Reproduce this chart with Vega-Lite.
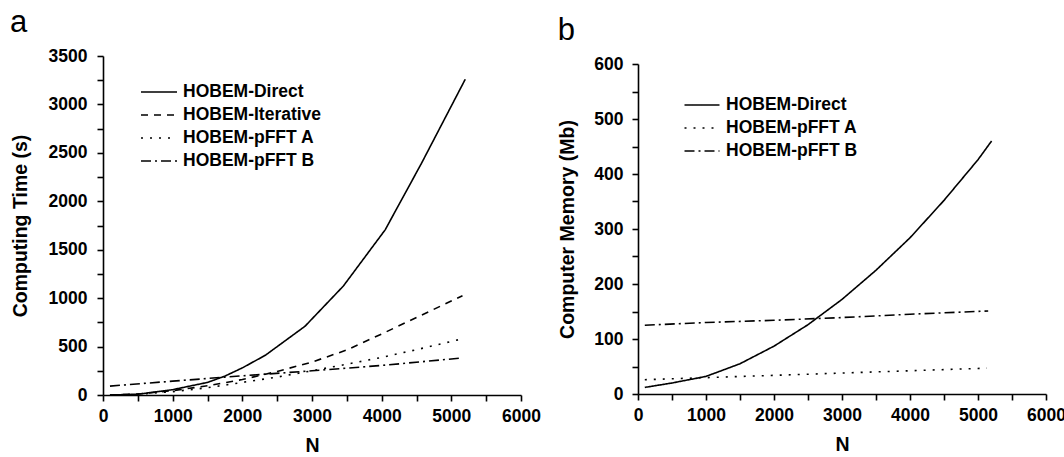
{
  "$schema": "https://vega.github.io/schema/vega-lite/v6.json",
  "background": "white",
  "padding": {"left": 10, "top": 7, "right": 0, "bottom": 0},
  "spacing": 16,
  "config": {
    "view": {"stroke": null},
    "font": "Liberation Sans",
    "axis": {
      "grid": false,
      "domainColor": "black", "domainWidth": 1.6,
      "tickColor": "black", "tickWidth": 1.6, "tickSize": 6,
      "labelFont": "Liberation Sans", "labelFontWeight": "bold", "labelFontSize": 17.5, "labelColor": "black",
      "titleFont": "Liberation Sans", "titleFontWeight": "bold", "titleFontSize": 19.5, "titleColor": "black",
      "labelFlush": false, "labelOverlap": false
    },
    "title": {"font": "Liberation Sans", "fontSize": 31, "fontWeight": "normal", "anchor": "start", "frame": "bounds", "color": "black"}
  },
  "datasets": {
    "time": [
      {"series": "HOBEM-Direct", "N": 100, "value": 0},
      {"series": "HOBEM-Direct", "N": 500, "value": 8},
      {"series": "HOBEM-Direct", "N": 1000, "value": 55},
      {"series": "HOBEM-Direct", "N": 1500, "value": 130},
      {"series": "HOBEM-Direct", "N": 1750, "value": 195},
      {"series": "HOBEM-Direct", "N": 2000, "value": 280},
      {"series": "HOBEM-Direct", "N": 2330, "value": 410},
      {"series": "HOBEM-Direct", "N": 2900, "value": 710},
      {"series": "HOBEM-Direct", "N": 3450, "value": 1125},
      {"series": "HOBEM-Direct", "N": 4050, "value": 1705},
      {"series": "HOBEM-Direct", "N": 4570, "value": 2390},
      {"series": "HOBEM-Direct", "N": 5200, "value": 3260},
      {"series": "HOBEM-Iterative", "N": 100, "value": 0},
      {"series": "HOBEM-Iterative", "N": 500, "value": 10},
      {"series": "HOBEM-Iterative", "N": 1000, "value": 45},
      {"series": "HOBEM-Iterative", "N": 1500, "value": 95},
      {"series": "HOBEM-Iterative", "N": 2000, "value": 160},
      {"series": "HOBEM-Iterative", "N": 2500, "value": 243},
      {"series": "HOBEM-Iterative", "N": 3000, "value": 340},
      {"series": "HOBEM-Iterative", "N": 3500, "value": 465},
      {"series": "HOBEM-Iterative", "N": 4000, "value": 630},
      {"series": "HOBEM-Iterative", "N": 4500, "value": 800},
      {"series": "HOBEM-Iterative", "N": 5160, "value": 1025},
      {"series": "HOBEM-pFFT A", "N": 100, "value": 0},
      {"series": "HOBEM-pFFT A", "N": 500, "value": 8},
      {"series": "HOBEM-pFFT A", "N": 1000, "value": 35},
      {"series": "HOBEM-pFFT A", "N": 1500, "value": 75},
      {"series": "HOBEM-pFFT A", "N": 2000, "value": 130},
      {"series": "HOBEM-pFFT A", "N": 2500, "value": 185},
      {"series": "HOBEM-pFFT A", "N": 3000, "value": 250},
      {"series": "HOBEM-pFFT A", "N": 3500, "value": 318},
      {"series": "HOBEM-pFFT A", "N": 4000, "value": 388},
      {"series": "HOBEM-pFFT A", "N": 4500, "value": 468},
      {"series": "HOBEM-pFFT A", "N": 5130, "value": 575},
      {"series": "HOBEM-pFFT B", "N": 100, "value": 92},
      {"series": "HOBEM-pFFT B", "N": 1000, "value": 143},
      {"series": "HOBEM-pFFT B", "N": 2000, "value": 198},
      {"series": "HOBEM-pFFT B", "N": 3000, "value": 250},
      {"series": "HOBEM-pFFT B", "N": 4000, "value": 305},
      {"series": "HOBEM-pFFT B", "N": 5160, "value": 383}
    ],
    "mem": [
      {"series": "HOBEM-Direct", "N": 100, "value": 12},
      {"series": "HOBEM-Direct", "N": 500, "value": 20},
      {"series": "HOBEM-Direct", "N": 1000, "value": 32},
      {"series": "HOBEM-Direct", "N": 1500, "value": 55},
      {"series": "HOBEM-Direct", "N": 2000, "value": 87},
      {"series": "HOBEM-Direct", "N": 2500, "value": 126},
      {"series": "HOBEM-Direct", "N": 3000, "value": 172},
      {"series": "HOBEM-Direct", "N": 3500, "value": 225},
      {"series": "HOBEM-Direct", "N": 4000, "value": 284},
      {"series": "HOBEM-Direct", "N": 4500, "value": 352},
      {"series": "HOBEM-Direct", "N": 5000, "value": 426},
      {"series": "HOBEM-Direct", "N": 5200, "value": 460},
      {"series": "HOBEM-pFFT A", "N": 100, "value": 26},
      {"series": "HOBEM-pFFT A", "N": 2500, "value": 36},
      {"series": "HOBEM-pFFT A", "N": 5130, "value": 47},
      {"series": "HOBEM-pFFT B", "N": 100, "value": 125},
      {"series": "HOBEM-pFFT B", "N": 1000, "value": 130},
      {"series": "HOBEM-pFFT B", "N": 2000, "value": 134},
      {"series": "HOBEM-pFFT B", "N": 3000, "value": 139},
      {"series": "HOBEM-pFFT B", "N": 4000, "value": 145},
      {"series": "HOBEM-pFFT B", "N": 5150, "value": 151}
    ]
  },
  "resolve": {
    "scale": {"x": "independent", "y": "independent", "strokeDash": "independent"},
    "legend": {"strokeDash": "independent"}
  },
  "hconcat": [
    {
      "title": {"text": "a", "offset": 8},
      "width": 418,
      "height": 339,
      "data": {"name": "time"},
      "mark": {"type": "line", "color": "black", "strokeWidth": 1.6},
      "encoding": {
        "x": {
          "field": "N", "type": "quantitative",
          "scale": {"domain": [0, 6000], "nice": false, "zero": true},
          "axis": {
            "title": "N",
            "values": [0, 500, 1000, 1500, 2000, 2500, 3000, 3500, 4000, 4500, 5000, 5500, 6000],
            "labelExpr": "datum.value % 1000 === 0 ? format(datum.value, 'd') : ''",
            "labelPadding": 6, "titlePadding": 12
          }
        },
        "y": {
          "field": "value", "type": "quantitative",
          "scale": {"domain": [0, 3500], "nice": false},
          "axis": {
            "title": "Computing Time (s)",
            "values": [0, 250, 500, 750, 1000, 1250, 1500, 1750, 2000, 2250, 2500, 2750, 3000, 3250, 3500],
            "labelExpr": "datum.value % 500 === 0 ? format(datum.value, 'd') : ''",
            "labelPadding": 10, "titlePadding": 18
          }
        },
        "strokeDash": {
          "field": "series", "type": "nominal",
          "scale": {
            "domain": ["HOBEM-Direct", "HOBEM-Iterative", "HOBEM-pFFT A", "HOBEM-pFFT B"],
            "range": [[1, 0], [7, 6], [2, 7], [10, 4, 2, 4]]
          },
          "legend": {
            "orient": "none", "legendX": 46, "legendY": 26, "title": null,
            "symbolType": "M-2,0H2", "symbolSize": 324, "symbolStrokeWidth": 1.6, "symbolStrokeColor": "black", "symbolFillColor": "transparent",
            "labelFont": "Liberation Sans", "labelFontWeight": "bold", "labelFontSize": 17.5, "labelColor": "black",
            "labelOffset": 14, "rowPadding": 4, "padding": 0, "labelLimit": 400
          }
        }
      }
    },
    {
      "title": {"text": "b", "offset": 8},
      "width": 408,
      "height": 338,
      "data": {"name": "mem"},
      "mark": {"type": "line", "color": "black", "strokeWidth": 1.6},
      "encoding": {
        "x": {
          "field": "N", "type": "quantitative",
          "scale": {"domain": [0, 6000], "nice": false, "zero": true},
          "axis": {
            "title": "N",
            "values": [0, 500, 1000, 1500, 2000, 2500, 3000, 3500, 4000, 4500, 5000, 5500, 6000],
            "labelExpr": "datum.value % 1000 === 0 ? format(datum.value, 'd') : ''",
            "labelPadding": 6, "titlePadding": 12
          }
        },
        "y": {
          "field": "value", "type": "quantitative",
          "scale": {"domain": [0, 600], "nice": false, "range": [338, 8]},
          "axis": {
            "title": "Computer Memory (Mb)",
            "values": [0, 50, 100, 150, 200, 250, 300, 350, 400, 450, 500, 550, 600],
            "labelExpr": "datum.value % 100 === 0 ? format(datum.value, 'd') : ''",
            "labelPadding": 9, "titlePadding": 16
          }
        },
        "strokeDash": {
          "field": "series", "type": "nominal",
          "scale": {
            "domain": ["HOBEM-Direct", "HOBEM-pFFT A", "HOBEM-pFFT B"],
            "range": [[1, 0], [2, 7], [10, 4, 2, 4]]
          },
          "legend": {
            "orient": "none", "legendX": 54, "legendY": 39, "title": null,
            "symbolType": "M-2,0H2", "symbolSize": 306, "symbolStrokeWidth": 1.6, "symbolStrokeColor": "black", "symbolFillColor": "transparent",
            "labelFont": "Liberation Sans", "labelFontWeight": "bold", "labelFontSize": 17.5, "labelColor": "black",
            "labelOffset": 14, "rowPadding": 4, "padding": 0, "labelLimit": 400
          }
        }
      }
    }
  ]
}
